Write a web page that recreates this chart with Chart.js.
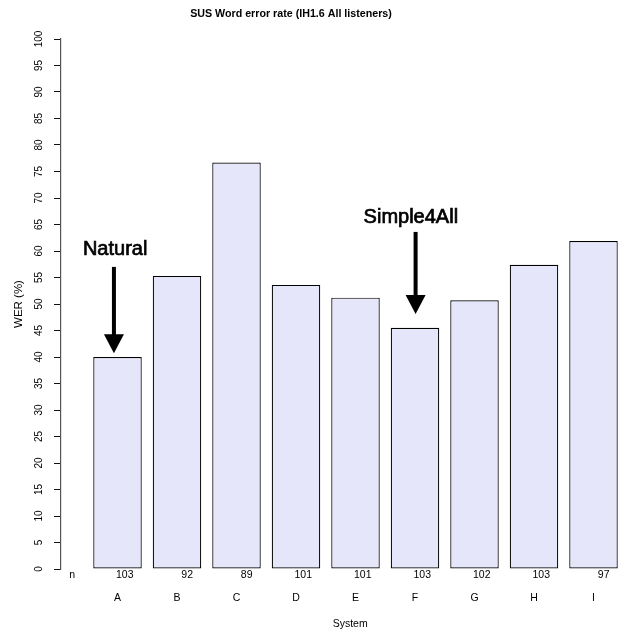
<!DOCTYPE html>
<html>
<head>
<meta charset="utf-8">
<script src="https://cdn.jsdelivr.net/npm/chart.js@4/dist/chart.umd.min.js"></script>
<style>
  html, body { margin: 0; padding: 0; background: #fff; }
  canvas { display: block; }
</style>
</head>
<body>
<canvas id="c" width="627" height="630"></canvas>
<script>
// ---- data ----
const categories = ['A', 'B', 'C', 'D', 'E', 'F', 'G', 'H', 'I'];
const werValues = [40.0, 55.3, 76.7, 53.6, 51.2, 45.5, 50.7, 57.4, 61.9];
const nCounts = ['103', '92', '89', '101', '101', '103', '102', '103', '97'];
const yTickValues = [0, 5, 10, 15, 20, 25, 30, 35, 40, 45, 50, 55, 60, 65, 70, 75, 80, 85, 90, 95, 100];
const titleText = 'SUS Word error rate (IH1.6 All listeners)';
const annotations = [
  { text: 'Natural', bar: 1, textY: 60.2, arrowFrom: 57.0, arrowTo: 40.7, dx: -0.06, tdx: -0.04 },
  { text: 'Simple4All', bar: 6, textY: 66.4, arrowFrom: 63.6, arrowTo: 48.1, dx: 0.01, tdx: -0.07 }
];

const FONT = '"Liberation Sans", Arial, Helvetica, sans-serif';
const X_MIN = 0.0504, X_MAX = 9.479;

const overlay = {
  id: 'overlay',
  afterDraw(chart) {
    const ctx = chart.ctx;
    const xs = chart.scales.x, ys = chart.scales.y;
    ctx.save();
    // title
    ctx.fillStyle = '#000';
    ctx.font = 'bold 10.7px ' + FONT;
    ctx.textAlign = 'center';
    ctx.textBaseline = 'middle';
    ctx.fillText(titleText, 291, 14);
    // x axis title
    ctx.font = '10.5px ' + FONT;
    ctx.fillText('System', xs.getPixelForValue(4.91), 624);
    // annotations
    annotations.forEach(a => {
      const xa = xs.getPixelForValue(a.bar + a.dx);
      const xt = xs.getPixelForValue(a.bar + a.tdx);
      const ty = ys.getPixelForValue(a.textY);
      ctx.font = '20px ' + FONT;
      ctx.fillStyle = '#000';
      ctx.strokeStyle = '#000';
      ctx.textAlign = 'center';
      ctx.textBaseline = 'middle';
      ctx.lineWidth = 0.7;
      ctx.fillText(a.text, xt, ty);
      ctx.strokeText(a.text, xt, ty);
      const y1 = ys.getPixelForValue(a.arrowFrom);
      const y2 = ys.getPixelForValue(a.arrowTo);
      const headH = 19, headW = 10;
      ctx.lineWidth = 4;
      ctx.beginPath();
      ctx.moveTo(xa, y1);
      ctx.lineTo(xa, y2 - headH + 2);
      ctx.stroke();
      ctx.beginPath();
      ctx.moveTo(xa - headW, y2 - headH);
      ctx.lineTo(xa + headW, y2 - headH);
      ctx.lineTo(xa, y2);
      ctx.closePath();
      ctx.fill();
    });
    ctx.restore();
  }
};

new Chart(document.getElementById('c'), {
  type: 'bar',
  data: {
    datasets: [{
      data: werValues.map((v, i) => ({ x: i + 1, y: v })),
      backgroundColor: '#E6E6FA',
      borderColor: '#000',
      borderWidth: 1.2,
      borderSkipped: false,
      categoryPercentage: 1.0,
      barPercentage: 0.815
    }]
  },
  options: {
    responsive: false,
    animation: false,
    events: [],
    layout: { padding: { top: 39, right: 5, left: 0, bottom: 0 } },
    plugins: { legend: { display: false }, tooltip: { enabled: false }, title: { display: false } },
    scales: {
      x: {
        type: 'linear',
        position: 'bottom',
        offset: false,
        weight: 1,
        min: X_MIN, max: X_MAX,
        grid: { display: false, drawTicks: false, offset: false },
        border: { display: false },
        afterBuildTicks: s => { s.ticks = categories.map((c, i) => ({ value: i + 1 })); },
        afterFit: s => { s.height = 44; },
        ticks: {
          autoSkip: false, maxRotation: 0, minRotation: 0, padding: 5.7,
          color: '#000', font: { family: FONT, size: 10.5 },
          callback: (v, i) => categories[i]
        }
      },
      xn: {
        type: 'linear',
        position: 'bottom',
        offset: false,
        weight: 0,
        min: X_MIN, max: X_MAX,
        grid: { display: false, drawTicks: false, offset: false },
        border: { display: false },
        afterBuildTicks: s => { s.ticks = [{ value: 0.017 }].concat(nCounts.map((c, i) => ({ value: i + 1 }))); },
        afterFit: s => { s.height = 17; },
        ticks: {
          autoSkip: false, maxRotation: 0, minRotation: 0, padding: 0,
          align: 'end', labelOffset: 16,
          color: '#000', font: { family: FONT, size: 10.5 },
          callback: (v, i) => (i === 0 ? 'n' : nCounts[i - 1])
        }
      },
      y: {
        type: 'linear',
        position: 'left',
        min: 0, max: 100,
        afterBuildTicks: s => { s.ticks = yTickValues.map(v => ({ value: v })); },
        afterFit: s => { s.width = 61; },
        grid: { display: true, drawOnChartArea: false, drawTicks: true, tickLength: 7, color: '#111', lineWidth: 1 },
        border: { display: true, color: '#555', width: 1.2 },
        title: { display: true, text: 'WER (%)', color: '#000', font: { family: FONT, size: 11.5 }, padding: { top: 12, bottom: 0 } },
        ticks: {
          autoSkip: false, minRotation: 90, maxRotation: 90, crossAlign: 'center', padding: 6.6,
          color: '#000', font: { family: FONT, size: 10 },
          callback: v => String(v)
        }
      }
    }
  },
  plugins: [overlay]
});
</script>
</body>
</html>
